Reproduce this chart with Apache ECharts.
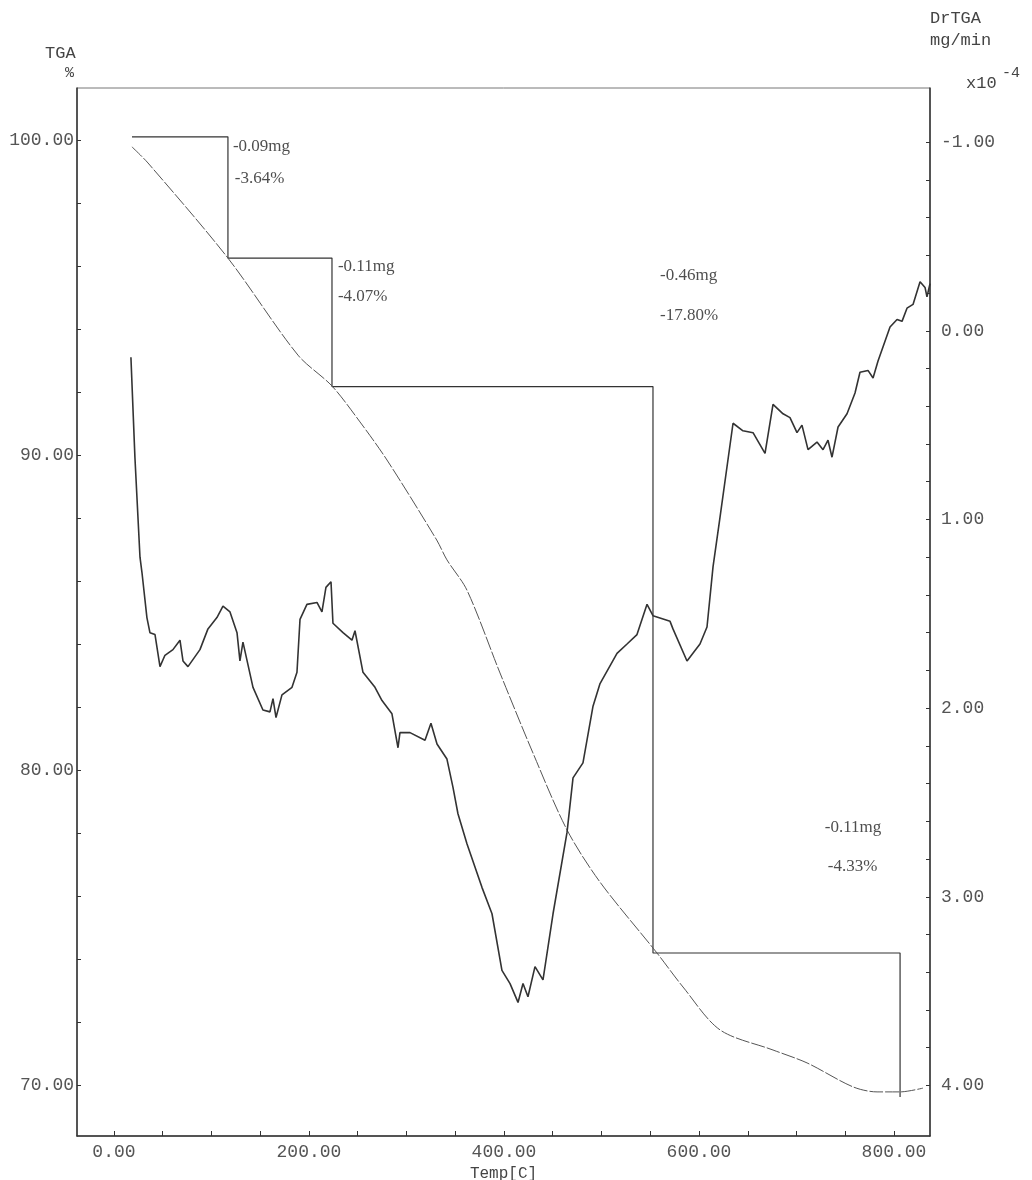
<!DOCTYPE html>
<html>
<head>
<meta charset="utf-8">
<title>TGA / DrTGA</title>
<script src="https://cdn.jsdelivr.net/npm/echarts@6/dist/echarts.min.js"></script>
<style>
  html, body { margin: 0; padding: 0; background: #fff; }
  #chart { width: 1032px; height: 1180px; }
</style>
</head>
<body>
<div id="chart"></div>
<script>
// TGA curve (left axis, %)
const tgaTemp = [18.5, 34.9, 116.9, 188.7, 223.6, 252.3, 280, 331, 341.5, 362, 395.9, 429.7, 464.6, 498.5, 556.9, 583.6, 621.5, 675.9, 710.8, 757.9, 782.6, 806.2, 829.7]
const tgaPct = [99.78, 99.27, 96.25, 93.17, 92.19, 91.05, 89.84, 87.3, 86.67, 85.71, 83.08, 80.54, 78.1, 76.44, 74.19, 73.11, 71.75, 71.11, 70.7, 69.94, 69.78, 69.78, 69.9]

// DrTGA curve (right axis, x10^-4 mg/min, inverted)
const drTemp = [17.4, 21.5, 26.7, 28.7, 33.8, 36.9, 42.1, 47.2, 52.3, 60.5, 67.7, 70.8, 75.9, 88.2, 96.4, 105.6, 111.8, 119.0, 126.2, 129.2, 132.3, 142.6, 152.8, 160.0, 163.1, 166.2, 172.3, 182.6, 187.7, 190.8, 197.9, 208.2, 213.3, 217.4, 222.6, 224.6, 234.9, 244.1, 247.2, 255.4, 267.7, 274.9, 285.1, 291.3, 293.3, 303.6, 319.0, 325.1, 331.3, 341.5, 347.7, 352.8, 362.1, 377.4, 387.7, 397.9, 406.2, 414.4, 419.5, 424.6, 431.8, 440.0, 450.3, 464.6, 470.8, 481.0, 491.3, 498.5, 515.9, 526.2, 536.4, 546.7, 552.8, 570.3, 573.3, 587.7, 601.0, 608.2, 614.4, 621.5, 634.9, 645.1, 655.4, 667.7, 675.9, 686.2, 693.3, 700.5, 705.6, 711.8, 721.0, 727.2, 732.3, 736.4, 742.6, 751.8, 760.0, 765.1, 773.3, 778.5, 783.6, 795.9, 803.1, 808.2, 813.3, 819.5, 826.7, 831.8, 833.8, 836.9]
const drValue = [0.14, 0.67, 1.20, 1.28, 1.52, 1.60, 1.61, 1.78, 1.72, 1.69, 1.64, 1.75, 1.78, 1.69, 1.58, 1.52, 1.46, 1.49, 1.60, 1.75, 1.65, 1.89, 2.01, 2.02, 1.95, 2.05, 1.93, 1.89, 1.81, 1.53, 1.45, 1.44, 1.49, 1.36, 1.33, 1.55, 1.60, 1.64, 1.59, 1.81, 1.89, 1.96, 2.03, 2.21, 2.13, 2.13, 2.17, 2.08, 2.19, 2.27, 2.42, 2.56, 2.72, 2.95, 3.09, 3.39, 3.46, 3.56, 3.46, 3.53, 3.37, 3.44, 3.09, 2.66, 2.37, 2.29, 1.99, 1.87, 1.71, 1.66, 1.61, 1.45, 1.51, 1.54, 1.58, 1.75, 1.66, 1.57, 1.25, 0.99, 0.49, 0.53, 0.54, 0.65, 0.39, 0.44, 0.46, 0.54, 0.50, 0.63, 0.59, 0.63, 0.58, 0.67, 0.51, 0.44, 0.33, 0.22, 0.21, 0.25, 0.16, -0.02, -0.06, -0.05, -0.12, -0.14, -0.26, -0.23, -0.18, -0.25]

// weight-loss step construction (left axis)
const stepTemp = [18.5, 116.9, 116.9, 223.6, 223.6, 552.8, 552.8, 806.2, 806.2]
const stepPct = [100.1, 100.1, 96.25, 96.25, 92.17, 92.17, 74.19, 74.19, 69.62]

// step annotations
const noteText = ['-0.09mg', '-3.64%', '-0.11mg', '-4.07%', '-0.46mg', '-17.80%', '-0.11mg', '-4.33%']
const noteTemp = [122, 124, 229.7, 229.7, 560, 560, 729, 732]
const notePct = [99.78, 98.79, 95.97, 95.02, 95.71, 94.44, 78.16, 76.92]

// axis ticks / labels
const tempLabels = [0, 200, 400, 600, 800]
const tempTicks = [0, 50, 100, 150, 200, 250, 300, 350, 400, 450, 500, 550, 600, 650, 700, 750, 800]
const tgaLabels = [70, 80, 90, 100]
const tgaTicks = [70, 72, 74, 76, 78, 80, 82, 84, 86, 88, 90, 92, 94, 96, 98, 100]
const drLabels = [-1, 0, 1, 2, 3, 4]
const drTicks = []
for (let i = -5; i <= 20; i++) drTicks.push(i / 5)

const mono = 'Liberation Mono'
const axisColor = '#333'
const textColor = '#555'

const chart = echarts.init(document.getElementById('chart'))

function pairs(xs, ys) {
  return xs.map((x, i) => [x, ys[i]])
}

chart.setOption({
  backgroundColor: '#fff',
  animation: false,
  grid: {
    left: 77,
    right: 102,
    top: 88,
    bottom: 44,
    show: true,
    borderColor: '#777',
    borderWidth: 1,
    containLabel: false,
    outerBoundsMode: 'none'
  },
  xAxis: {
    type: 'value',
    min: -37.9,
    max: 836.9,
    name: 'Temp[C]',
    nameLocation: 'middle',
    nameGap: 14,
    nameTextStyle: { fontFamily: mono, fontSize: 16, color: '#444' },
    axisLine: { show: true, onZero: false, lineStyle: { color: axisColor, width: 1.5 } },
    axisTick: { show: true, inside: true, length: 5, customValues: tempTicks, lineStyle: { color: axisColor } },
    axisLabel: {
      margin: 7,
      fontFamily: mono,
      fontSize: 18,
      color: textColor,
      customValues: tempLabels,
      formatter: v => v.toFixed(2)
    },
    splitLine: { show: false }
  },
  yAxis: [
    {
      type: 'value',
      position: 'left',
      min: 68.38,
      max: 101.65,
      axisLine: { show: true, onZero: false, lineStyle: { color: axisColor, width: 1.5 } },
      axisTick: { show: true, inside: true, length: 4, customValues: tgaTicks, lineStyle: { color: axisColor } },
      axisLabel: {
        margin: 3,
        fontFamily: mono,
        fontSize: 18,
        color: textColor,
        customValues: tgaLabels,
        formatter: v => v.toFixed(2)
      },
      splitLine: { show: false }
    },
    {
      type: 'value',
      position: 'right',
      inverse: true,
      min: -1.287,
      max: 4.268,
      axisLine: { show: true, onZero: false, lineStyle: { color: axisColor, width: 1.5 } },
      axisTick: { show: true, inside: true, length: 4, customValues: drTicks, lineStyle: { color: axisColor } },
      axisLabel: {
        margin: 11,
        fontFamily: mono,
        fontSize: 18,
        color: textColor,
        customValues: drLabels,
        formatter: v => v.toFixed(2)
      },
      splitLine: { show: false }
    }
  ],
  graphic: [
    { type: 'text', x: 45, y: 53, style: { text: 'TGA', font: '17px "Liberation Mono"', fill: '#444', verticalAlign: 'middle' } },
    { type: 'text', x: 65, y: 73, style: { text: '%', font: '15px "Liberation Mono"', fill: '#444', verticalAlign: 'middle' } },
    { type: 'text', x: 930, y: 18, style: { text: 'DrTGA', font: '17px "Liberation Mono"', fill: '#444', verticalAlign: 'middle' } },
    { type: 'text', x: 930, y: 40, style: { text: 'mg/min', font: '17px "Liberation Mono"', fill: '#444', verticalAlign: 'middle' } },
    { type: 'text', x: 966, y: 83, style: { text: 'x10', font: '17px "Liberation Mono"', fill: '#444', verticalAlign: 'middle' } },
    { type: 'text', x: 1002, y: 73, style: { text: '-4', font: '15px "Liberation Mono"', fill: '#444', verticalAlign: 'middle' } }
  ],
  series: [
    {
      name: 'steps',
      type: 'line',
      yAxisIndex: 0,
      data: pairs(stepTemp, stepPct),
      symbol: 'none',
      lineStyle: { color: '#333', width: 1.2 },
      silent: true
    },
    {
      name: 'TGA',
      type: 'line',
      yAxisIndex: 0,
      data: pairs(tgaTemp, tgaPct),
      symbol: 'none',
      smooth: 0.3,
      lineStyle: { color: '#555', width: 1, type: [14, 2] }
    },
    {
      name: 'DrTGA',
      type: 'line',
      yAxisIndex: 1,
      data: pairs(drTemp, drValue),
      symbol: 'none',
      lineStyle: { color: '#333', width: 1.6 }
    },
    {
      name: 'notes',
      type: 'scatter',
      yAxisIndex: 0,
      symbolSize: 0,
      data: pairs(noteTemp, notePct).map((p, i) => ({ value: p, name: noteText[i] })),
      label: {
        show: true,
        position: 'right',
        distance: 0,
        formatter: p => p.name,
        fontFamily: 'Liberation Serif',
        fontSize: 17,
        color: '#222'
      },
      silent: true
    }
  ]
})
</script>
</body>
</html>
